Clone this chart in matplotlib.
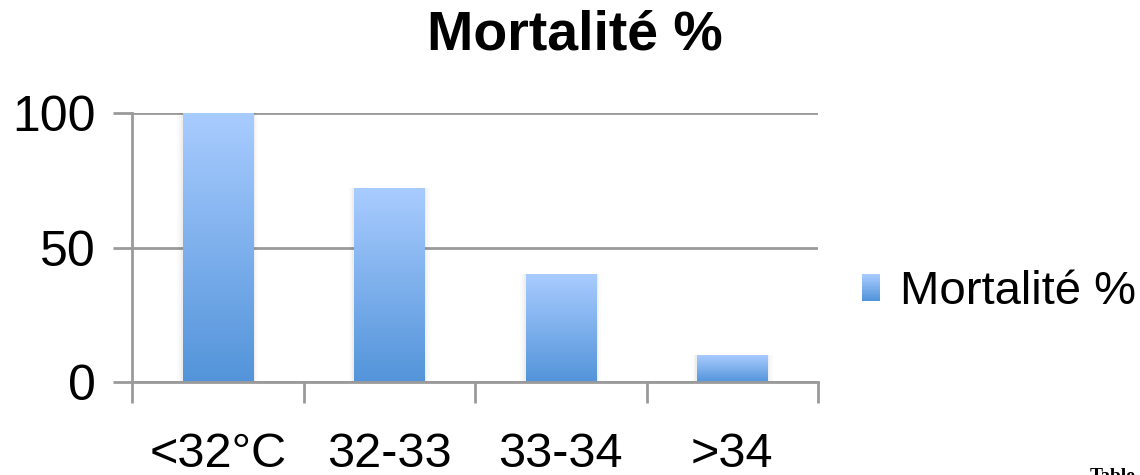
import numpy as np
import matplotlib.pyplot as plt
from matplotlib.colors import LinearSegmentedColormap
from matplotlib.patches import Rectangle
from matplotlib.legend_handler import HandlerBase

plt.rcParams['font.family'] = ['Liberation Sans', 'DejaVu Sans']

categories = ['<32°C', '32-33', '33-34', '>34']
mortalite = [100, 72, 40, 10]
serie = 'Mortalité %'

grad = LinearSegmentedColormap.from_list('bleu', ['#5394DA', '#A9CCFF'])
gris = '#9A9A9A'

fig = plt.figure(figsize=(11.4, 4.75), dpi=100)
ax = fig.add_axes([132 / 1140, 1 - 382 / 475, (818 - 132) / 1140, (382 - 113) / 475])

x = np.arange(len(categories))
larg = 0.41
grad_img = np.linspace(0, 1, 256).reshape(-1, 1)

for xi, v in zip(x, mortalite):
    # ombre légère autour de la barre
    for k, a in zip([0.03, 0.02, 0.01], [0.015, 0.02, 0.03]):
        ax.add_patch(Rectangle((xi - larg / 2 - k, 0), larg + 2 * k, v + k * 6,
                               facecolor='black', alpha=a, lw=0, zorder=2))
    bar = ax.bar(xi, v, width=larg, color='none', zorder=3)[0]
    im = ax.imshow(grad_img, cmap=grad, origin='lower', aspect='auto',
                   extent=(xi - larg / 2, xi + larg / 2, 0, v), zorder=3)
    im.set_clip_path(bar)

ax.set_xlim(-0.5, len(categories) - 0.5)
ax.set_ylim(0, 100)
ax.set_yticks([0, 50, 100])
ax.yaxis.grid(True, color=gris, lw=2, zorder=1)
ax.set_axisbelow(True)

for s in ['top', 'right']:
    ax.spines[s].set_visible(False)
ax.spines['left'].set_color(gris)
ax.spines['left'].set_linewidth(2)
ax.spines['bottom'].set_color(gris)
ax.spines['bottom'].set_linewidth(2)
ax.spines['bottom'].set_zorder(4)

ax.tick_params(axis='y', length=14, width=2, color=gris, labelsize=36, pad=12)
ax.set_xticks(x)
ax.set_xticklabels(categories)
ax.tick_params(axis='x', which='major', length=0, labelsize=35, pad=36)
ax.set_xticks(np.arange(len(categories) + 1) - 0.5, minor=True)
ax.tick_params(axis='x', which='minor', length=15, width=2, color=gris)


class HandlerDegrade(HandlerBase):
    def create_artists(self, legend, orig_handle, xdescent, ydescent,
                       width, height, fontsize, trans):
        n = 20
        h = height / n
        return [Rectangle((-xdescent, -ydescent + i * h), width, h * 1.05,
                          facecolor=grad(i / (n - 1)), lw=0, transform=trans)
                for i in range(n)]


poignee = Rectangle((0, 0), 1, 1)
fig.legend([poignee], [serie], handler_map={Rectangle: HandlerDegrade()},
           loc='center left', bbox_to_anchor=(862 / 1140, 1 - 292 / 475),
           frameon=False, fontsize=34, handlelength=0.38, handleheight=0.5,
           handletextpad=0.42, borderaxespad=0, borderpad=0)

fig.text(575 / 1140, 1 - 36 / 475, 'Mortalité %', ha='center', va='center',
         fontsize=40, fontweight='bold')
fig.text(1090 / 1140, 1 - 468 / 475, 'Table', ha='left', va='top',
         fontsize=14, fontweight='bold', family='Liberation Serif')

fig.savefig('out.png', dpi=100)
